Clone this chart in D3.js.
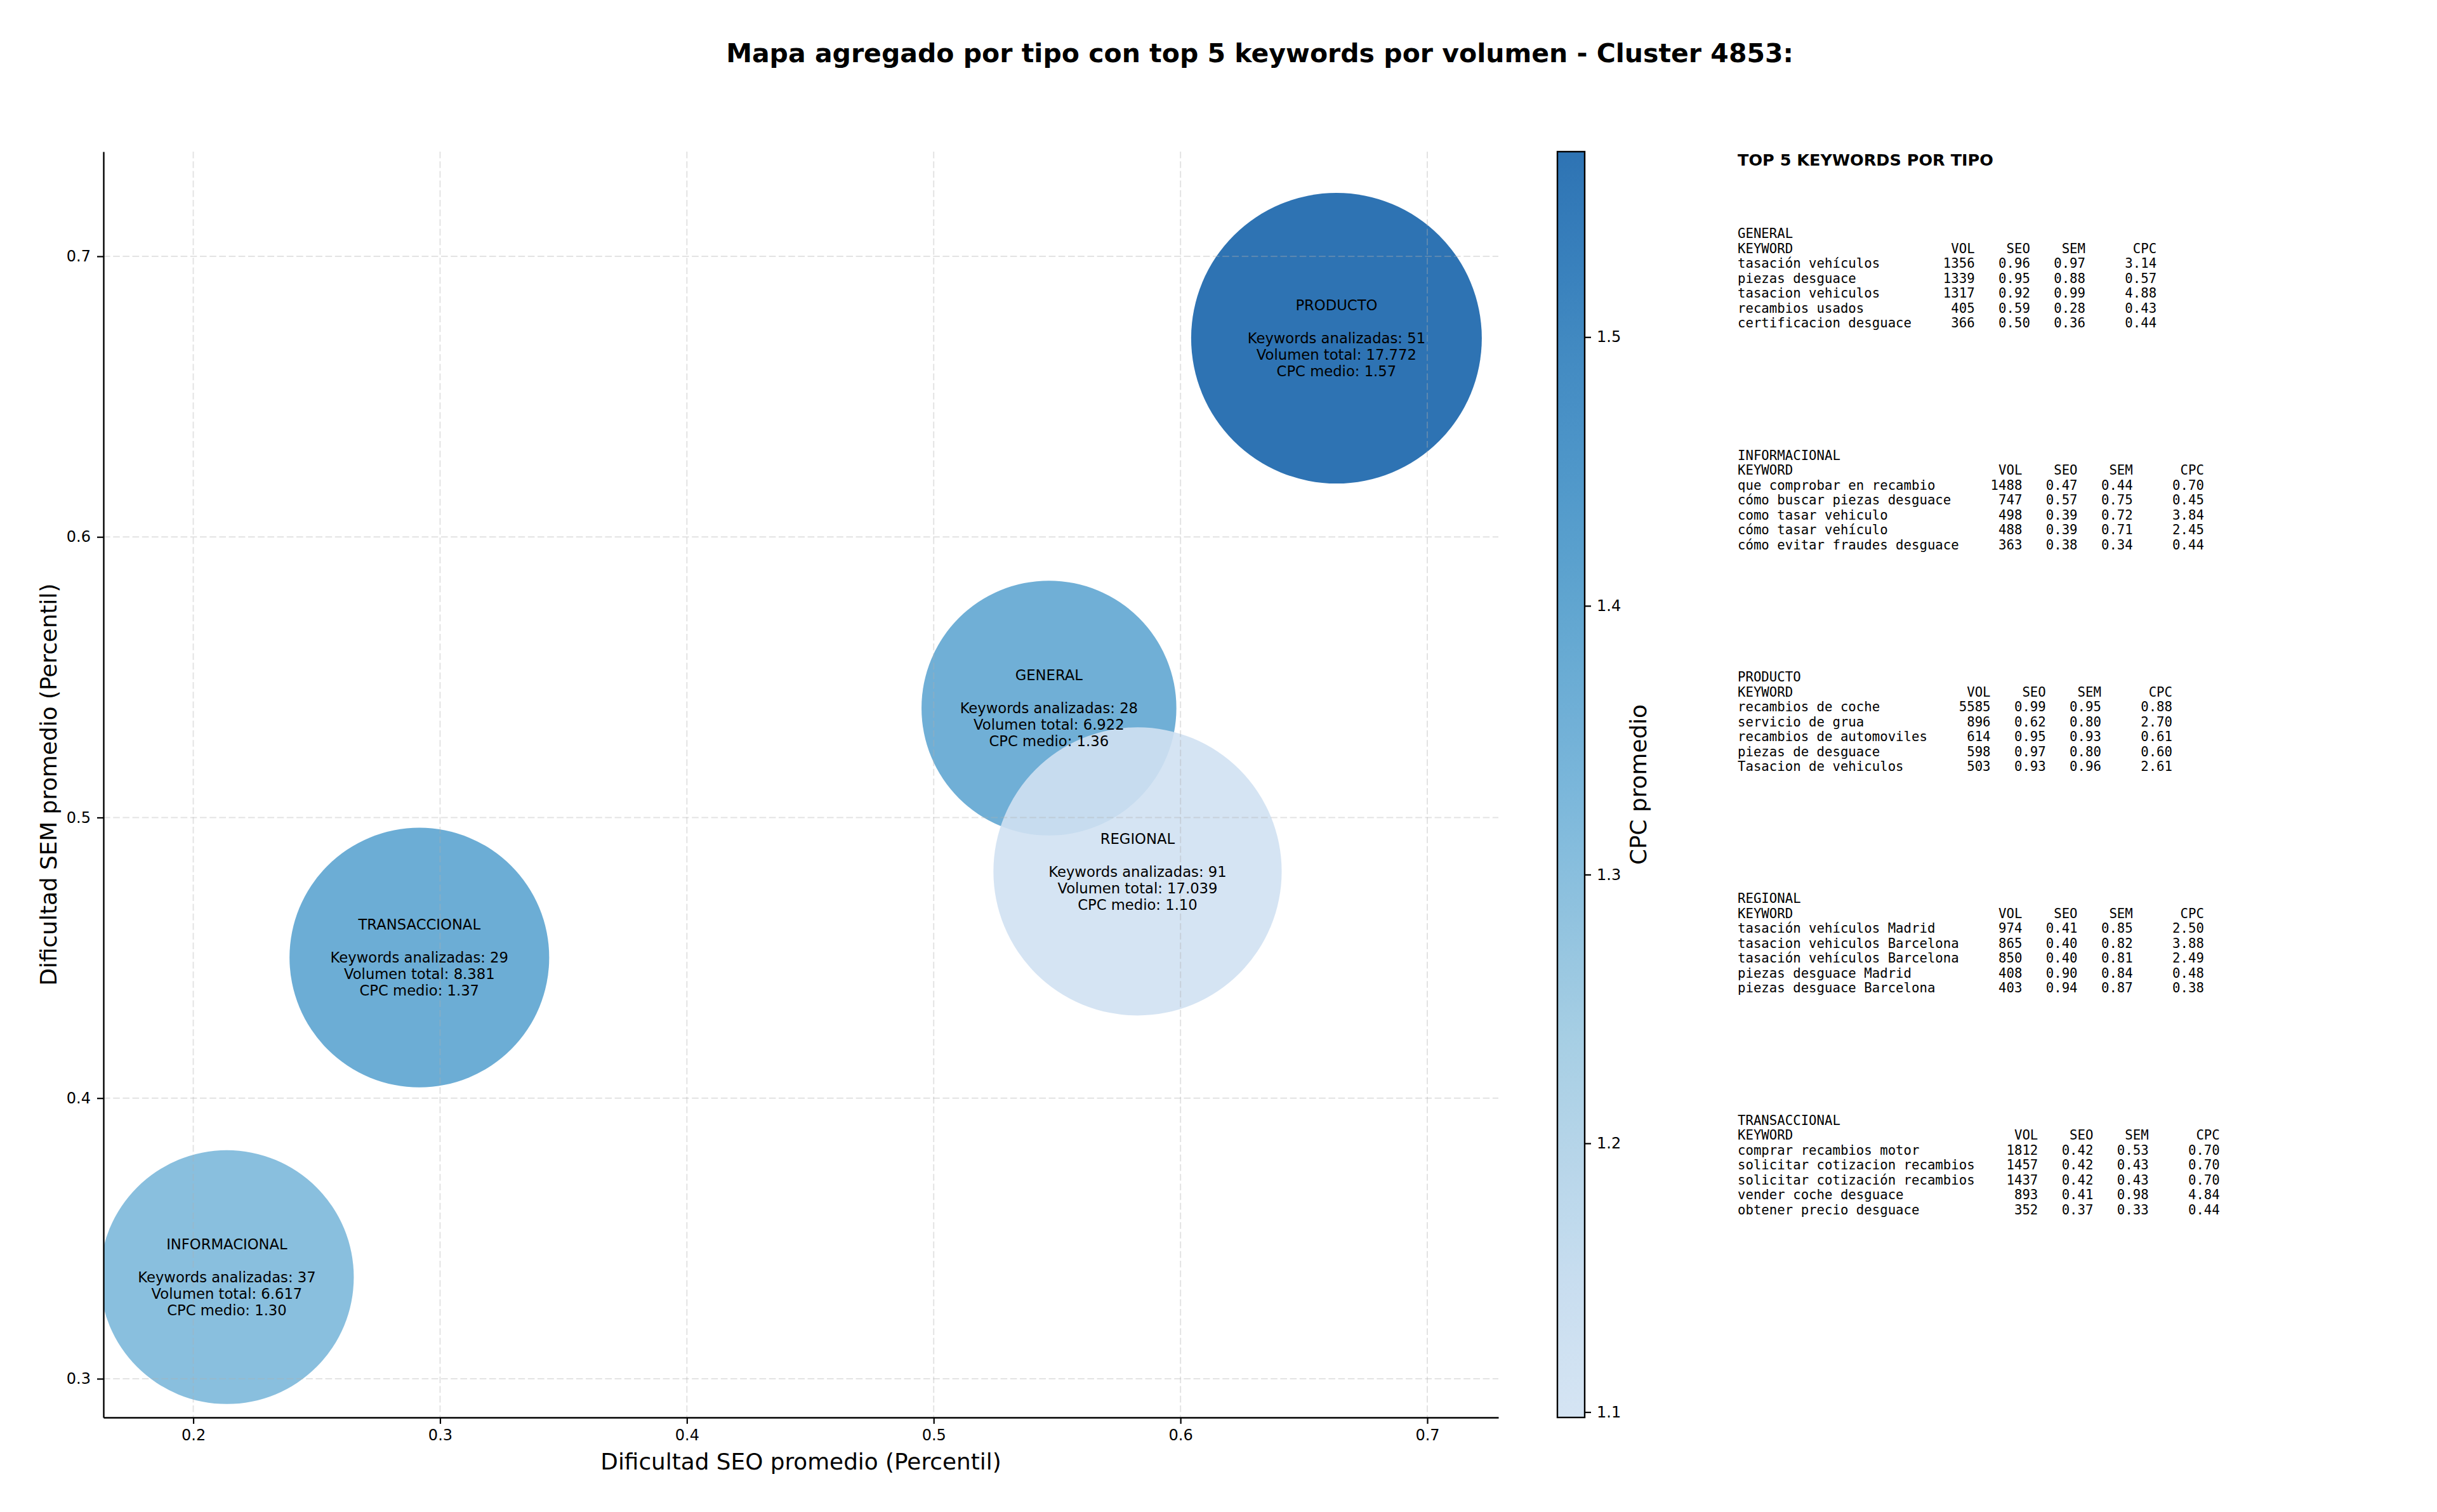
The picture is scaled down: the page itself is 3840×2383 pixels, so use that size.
<!DOCTYPE html>
<html>
<head>
<meta charset="utf-8">
<script src="https://cdn.jsdelivr.net/npm/d3@7"></script>
<style>
body { margin: 0; background: #fff; }
text { font-family: "DejaVu Sans", sans-serif; }
</style>
</head>
<body>
<div id="chart"></div>
<script>
// aggregated values per search type
var tipos = ['GENERAL', 'INFORMACIONAL', 'PRODUCTO', 'REGIONAL', 'TRANSACCIONAL'];
var seoMedio = [0.5467, 0.2136, 0.6632, 0.5826, 0.2916];
var semMedio = [0.5390, 0.3362, 0.6708, 0.4808, 0.4501];
var nKeywords = [28, 37, 51, 91, 29];
var volumenTotal = [6922, 6617, 17772, 17039, 8381];
var cpcMedio = [1.36, 1.30, 1.569, 1.098, 1.37];

var xTicks = [0.2, 0.3, 0.4, 0.5, 0.6, 0.7];
var yTicks = [0.3, 0.4, 0.5, 0.6, 0.7];
var cbTicks = [1.1, 1.2, 1.3, 1.4, 1.5];

// top 5 keywords per type: [keyword, vol, seo, sem, cpc]
var topGeneral = [
    ['tasación vehículos', 1356, 0.96, 0.97, 3.14],
    ['piezas desguace', 1339, 0.95, 0.88, 0.57],
    ['tasacion vehiculos', 1317, 0.92, 0.99, 4.88],
    ['recambios usados', 405, 0.59, 0.28, 0.43],
    ['certificacion desguace', 366, 0.50, 0.36, 0.44]
];
var topInformacional = [
    ['que comprobar en recambio', 1488, 0.47, 0.44, 0.70],
    ['cómo buscar piezas desguace', 747, 0.57, 0.75, 0.45],
    ['como tasar vehiculo', 498, 0.39, 0.72, 3.84],
    ['cómo tasar vehículo', 488, 0.39, 0.71, 2.45],
    ['cómo evitar fraudes desguace', 363, 0.38, 0.34, 0.44]
];
var topProducto = [
    ['recambios de coche', 5585, 0.99, 0.95, 0.88],
    ['servicio de grua', 896, 0.62, 0.80, 2.70],
    ['recambios de automoviles', 614, 0.95, 0.93, 0.61],
    ['piezas de desguace', 598, 0.97, 0.80, 0.60],
    ['Tasacion de vehiculos', 503, 0.93, 0.96, 2.61]
];
var topRegional = [
    ['tasación vehículos Madrid', 974, 0.41, 0.85, 2.50],
    ['tasacion vehiculos Barcelona', 865, 0.40, 0.82, 3.88],
    ['tasación vehículos Barcelona', 850, 0.40, 0.81, 2.49],
    ['piezas desguace Madrid', 408, 0.90, 0.84, 0.48],
    ['piezas desguace Barcelona', 403, 0.94, 0.87, 0.38]
];
var topTransaccional = [
    ['comprar recambios motor', 1812, 0.42, 0.53, 0.70],
    ['solicitar cotizacion recambios', 1457, 0.42, 0.43, 0.70],
    ['solicitar cotización recambios', 1437, 0.42, 0.43, 0.70],
    ['vender coche desguace', 893, 0.41, 0.98, 4.84],
    ['obtener precio desguace', 352, 0.37, 0.33, 0.44]
];
var topPorTipo = [topGeneral, topInformacional, topProducto, topRegional, topTransaccional];

var W = 3840, H = 2383;
var L = 163, R = 2361, T = 239, B = 2234;

var svg = d3.select('#chart').append('svg')
    .attr('width', W)
    .attr('height', H)
    .attr('viewBox', '0 0 ' + W + ' ' + H);

var xScale = d3.scaleLinear().domain([0.1636, 0.7288]).range([L, R]);
var yScale = d3.scaleLinear().domain([0.2862, 0.7373]).range([B, T]);
var rScale = d3.scaleLinear().domain(d3.extent(volumenTotal)).range([200, 229]);

// matplotlib Blues, only the 0.2 - 0.8 part is used
var bluesStops = ['#f7fbff', '#deebf7', '#c6dbef', '#9ecae1', '#6baed6', '#4292c6', '#2171b5', '#08519c', '#08306b'];
var blues = d3.scaleLinear().domain(d3.range(9).map(function(i){ return i / 8; })).range(bluesStops);
var cNorm = d3.scaleLinear().domain(d3.extent(cpcMedio)).range([0, 1]);
function cmap(t){ return blues(0.2 + 0.6 * t); }

var fmtVol = d3.formatLocale({decimal: ',', thousands: '.', grouping: [3], currency: ['', '']}).format(',d');

var rows = tipos.map(function(t, i){
    return {tipo: t, x: seoMedio[i], y: semMedio[i], n: nKeywords[i], vol: volumenTotal[i], cpc: cpcMedio[i]};
});

// title
svg.append('text')
    .attr('x', 1985).attr('y', 83)
    .attr('dy', '0.36em')
    .attr('text-anchor', 'middle')
    .style('font-size', '41px')
    .style('font-weight', 'bold')
    .text('Mapa agregado por tipo con top 5 keywords por volumen - Cluster 4853:');

svg.append('clipPath').attr('id', 'plotclip')
    .append('rect').attr('x', L).attr('y', T).attr('width', R - L).attr('height', B - T);

// bubbles
svg.append('g').attr('clip-path', 'url(#plotclip)')
    .selectAll('circle')
    .data(rows)
    .enter()
    .append('circle')
    .attr('cx', function(d){ return xScale(d.x); })
    .attr('cy', function(d){ return yScale(d.y); })
    .attr('r', function(d){ return rScale(d.vol); })
    .attr('fill', function(d){ return cmap(cNorm(d.cpc)); })
    .attr('fill-opacity', 0.9);

// grid (drawn over the bubbles like matplotlib does)
var grid = svg.append('g')
    .attr('stroke', '#b0b0b0')
    .attr('stroke-opacity', 0.35)
    .attr('stroke-width', 2)
    .attr('stroke-dasharray', '10.6,4.6');
grid.selectAll('.gx').data(xTicks).enter().append('line')
    .attr('x1', function(d){ return xScale(d); }).attr('x2', function(d){ return xScale(d); })
    .attr('y1', T).attr('y2', B);
grid.selectAll('.gy').data(yTicks).enter().append('line')
    .attr('y1', function(d){ return yScale(d); }).attr('y2', function(d){ return yScale(d); })
    .attr('x1', L).attr('x2', R);

// axes
var xAxis = d3.axisBottom(xScale).tickValues(xTicks).tickFormat(d3.format('.1f'))
    .tickSizeInner(10).tickSizeOuter(0).tickPadding(9);
var yAxis = d3.axisLeft(yScale).tickValues(yTicks).tickFormat(d3.format('.1f'))
    .tickSizeInner(10).tickSizeOuter(0).tickPadding(10);

var gx = svg.append('g').attr('transform', 'translate(0,' + B + ')').call(xAxis);
var gy = svg.append('g').attr('transform', 'translate(' + L + ',0)').call(yAxis);
[gx, gy].forEach(function(g){
    g.select('.domain').attr('stroke-width', 2.4).attr('stroke', '#000');
    g.selectAll('.tick line').attr('stroke-width', 2.2).attr('stroke', '#000');
    g.selectAll('.tick text').style('font-size', '24px').style('font-family', '"DejaVu Sans"').attr('fill', '#000');
});

svg.append('text')
    .attr('x', (L + R) / 2).attr('y', 2303)
    .attr('dy', '0.36em')
    .attr('text-anchor', 'middle')
    .style('font-size', '35.8px')
    .text('Dificultad SEO promedio (Percentil)');

svg.append('text')
    .attr('transform', 'translate(76,' + (T + B) / 2 + ') rotate(-90)')
    .attr('dy', '0.36em')
    .attr('text-anchor', 'middle')
    .style('font-size', '35.8px')
    .text('Dificultad SEM promedio (Percentil)');

// labels in the bubbles
var lineH = 26;
rows.forEach(function(d){
    var lines = [d.tipo, '', 'Keywords analizadas: ' + d.n, 'Volumen total: ' + fmtVol(d.vol), 'CPC medio: ' + d.cpc.toFixed(2)];
    var t = svg.append('text')
        .attr('text-anchor', 'middle')
        .style('font-size', '22.7px')
        .attr('fill', '#000');
    lines.forEach(function(s, i){
        t.append('tspan')
            .attr('x', xScale(d.x))
            .attr('y', yScale(d.y) + (i - 2) * lineH)
            .attr('dy', '0.36em')
            .text(s);
    });
});

// colorbar
var cbX = 2454, cbW = 43;
var cbScale = d3.scaleLinear().domain(d3.extent(cpcMedio)).range([B, T]);
var grad = svg.append('defs').append('linearGradient')
    .attr('id', 'cbgrad')
    .attr('x1', 0).attr('y1', 1).attr('x2', 0).attr('y2', 0);
grad.selectAll('stop')
    .data(d3.range(0, 1.0001, 0.05))
    .enter()
    .append('stop')
    .attr('offset', function(d){ return d; })
    .attr('stop-color', function(d){ return cmap(d); })
    .attr('stop-opacity', 0.9);
svg.append('rect')
    .attr('x', cbX).attr('y', T).attr('width', cbW).attr('height', B - T)
    .attr('fill', 'url(#cbgrad)');
svg.append('rect')
    .attr('x', cbX).attr('y', T).attr('width', cbW).attr('height', B - T)
    .attr('fill', 'none').attr('stroke', '#000').attr('stroke-width', 2.4);
var cbAxis = d3.axisRight(cbScale).tickValues(cbTicks).tickFormat(d3.format('.1f'))
    .tickSizeInner(10).tickSizeOuter(0).tickPadding(9);
var gcb = svg.append('g').attr('transform', 'translate(' + (cbX + cbW) + ',0)').call(cbAxis);
gcb.select('.domain').remove();
gcb.selectAll('.tick line').attr('stroke-width', 2.2).attr('stroke', '#000');
gcb.selectAll('.tick text').style('font-size', '24px').style('font-family', '"DejaVu Sans"').attr('fill', '#000');

svg.append('text')
    .attr('transform', 'translate(2581,' + (T + B) / 2 + ') rotate(-90)')
    .attr('dy', '0.36em')
    .attr('text-anchor', 'middle')
    .style('font-size', '35.8px')
    .text('CPC promedio');

// keyword table on the right
var tx = 2738;
svg.append('text')
    .attr('x', tx).attr('y', 252)
    .attr('dy', '0.36em')
    .style('font-size', '25.5px')
    .style('font-weight', 'bold')
    .text('TOP 5 KEYWORDS POR TIPO');

function pad(s, n){ s = String(s); return s.length >= n ? s : ' '.repeat(n - s.length) + s; }

tipos.forEach(function(tipo, gi){
    var kws = topPorTipo[gi];
    var w = d3.max(kws, function(k){ return k[0].length; }) + 3;
    var lines = [tipo, 'KEYWORD'.padEnd(w) + pad('VOL', 5) + pad('SEO', 7) + pad('SEM', 7) + pad('CPC', 9)];
    kws.forEach(function(k){
        lines.push(k[0].padEnd(w) + pad(k[1], 5) + pad(k[2].toFixed(2), 7) + pad(k[3].toFixed(2), 7) + pad(k[4].toFixed(2), 9));
    });
    var y0 = 368 + gi * 349.3;
    svg.append('g').selectAll('text')
        .data(lines)
        .enter()
        .append('text')
        .attr('x', tx)
        .attr('y', function(d, i){ return y0 + i * 23.5; })
        .attr('dy', '0.36em')
        .style('font-family', '"DejaVu Sans Mono", monospace')
        .style('font-size', '20.7px')
        .style('white-space', 'pre')
        .text(function(d){ return d; });
});
</script>
</body>
</html>
